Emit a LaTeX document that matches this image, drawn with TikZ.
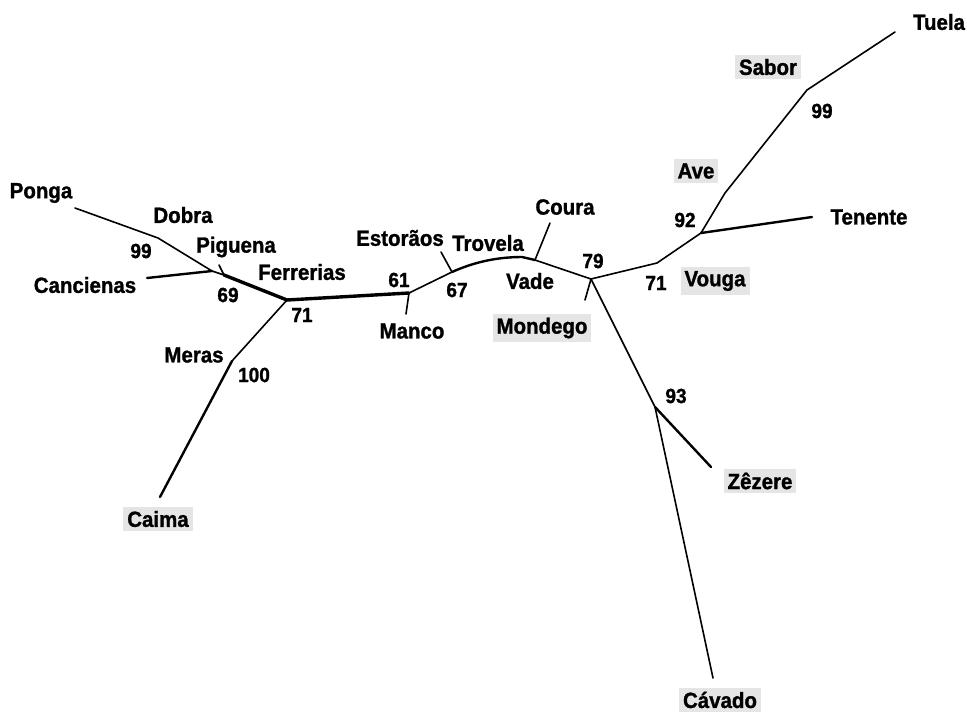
\documentclass[tikz,border=0pt]{standalone}
\usepackage{fontspec}
\setmainfont{Liberation Sans}
\newfontfamily\labfont[FakeStretch=0.93,FakeBold=1.2]{Liberation Sans Bold}
\begin{document}
\begin{tikzpicture}[x=1pt,y=-1pt,
  lab/.style={font=\labfont\fontsize{22}{24}\selectfont, inner sep=1pt},
  num/.style={font=\labfont\fontsize{20.5}{22}\selectfont, inner sep=1pt},
  hl/.style={fill=black!10, inner sep=4pt},
  br/.style={line width=1.6pt, line cap=round, line join=round},
  thick br/.style={line width=3.4pt, line cap=round, line join=round},
  mid br/.style={line width=2.4pt, line cap=round, line join=round}]
\useasboundingbox (0,0) rectangle (967,713);
% junctions and tips
\coordinate (ponga) at (75,208);
\coordinate (jdobra) at (158,238);
\coordinate (jcan) at (212,271);
\coordinate (cancienas) at (147,278);
\coordinate (jpig) at (224,275);
\coordinate (pigtip) at (219,265);
\coordinate (j71) at (287,300);
\coordinate (jmeras) at (232,361);
\coordinate (caima) at (160,497);
\coordinate (j61) at (409,293);
\coordinate (manco) at (406,314);
\coordinate (jest) at (452,272);
\coordinate (esttip) at (441,252);
\coordinate (jtrov) at (522,257);
\coordinate (jcoura) at (535,260);
\coordinate (coura) at (550,223);
\coordinate (j79) at (591,279);
\coordinate (mondego) at (585,300);
\coordinate (jvouga) at (657,263);
\coordinate (j92) at (701,233);
\coordinate (tenente) at (812,217);
\coordinate (jave) at (725,193);
\coordinate (j99) at (807,90);
\coordinate (tuela) at (895,32);
\coordinate (j93) at (655,407);
\coordinate (zezere) at (711,467);
\coordinate (cavado) at (713,678);
% branches
\draw[br] (ponga) -- (jdobra) -- (jcan);
\draw[mid br] (cancienas) -- (jcan);
\draw[br] (jcan) -- (jpig);
\draw[br] (pigtip) -- (jpig);
\draw[thick br] (jpig) -- (j71);
\draw[thick br] (j71) -- (j61);
\draw[br] (j71) -- (jmeras);
\draw[mid br] (jmeras) -- (caima);
\draw[br] (j61) -- (manco);
\draw[br] (j61) -- (jest);
\draw[br] (esttip) -- (jest);
\draw[mid br] (jest) .. controls (472,263) and (495,257) .. (jtrov) -- (jcoura);
\draw[br] (jcoura) -- (coura);
\draw[br] (jcoura) -- (j79);
\draw[br] (j79) -- (mondego);
\draw[br] (j79) -- (jvouga) -- (j92);
\draw[mid br] (j92) -- (tenente);
\draw[br] (j92) -- (jave) -- (j99) -- (tuela);
\draw[br] (j79) -- (j93);
\draw[mid br] (j93) -- (zezere);
\draw[br] (j93) -- (cavado);
% labels
\node[lab] (lPonga) at (41,193) {Ponga};
\node[lab] (lDobra) at (183,215) {Dobra};
\node[num] (n99a) at (141,251) {99};
\node[lab] (lPiguena) at (236,247) {Piguena};
\node[lab] (lCancienas) at (85,285) {Cancienas};
\node[num] (n69) at (228,295) {69};
\node[lab] (lFerrerias) at (302,272) {Ferrerias};
\node[num] (n71a) at (302,315) {71};
\node[num] (n61) at (399,280) {61};
\node[lab] (lManco) at (412,331) {Manco};
\node[lab] (lMeras) at (194,355) {Meras};
\node[num] (n100) at (254,375) {100};
\node[lab,hl] (lCaima) at (158,519) {Caima};
\node[lab] (lEstoraos) at (400,238) {Estorãos};
\node[lab] (lTrovela) at (488,243) {Trovela};
\node[num] (n67) at (457,290) {67};
\node[lab] (lVade) at (530,281) {Vade};
\node[lab] (lCoura) at (565,207) {Coura};
\node[num] (n79) at (593,261) {79};
\node[lab,hl] (lMondego) at (542,328) {Mondego};
\node[num] (n71b) at (656,283) {71};
\node[lab,hl] (lVouga) at (715,281) {Vouga};
\node[num] (n92) at (685,220) {92};
\node[lab,hl] (lAve) at (696,171) {Ave};
\node[lab,hl] (lSabor) at (768,67) {Sabor};
\node[num] (n99b) at (822,111) {99};
\node[lab] (lTuela) at (939,22) {Tuela};
\node[lab] (lTenente) at (869,217) {Tenente};
\node[num] (n93) at (676,396) {93};
\node[lab,hl] (lZezere) at (760,481) {Zêzere};
\node[lab,hl] (lCavado) at (720,700) {Cávado};
\end{tikzpicture}
\end{document}
